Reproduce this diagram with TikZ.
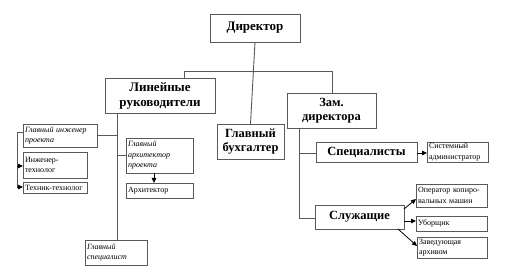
\documentclass[tikz,border=0pt]{standalone}
\usepackage{fontspec}
\setmainfont{Liberation Serif}
\usetikzlibrary{arrows.meta}
\begin{document}
\begin{tikzpicture}[x=1pt,y=-1pt,
  box/.style={draw=black!65, line width=0.9pt, fill=white, anchor=north west, inner sep=1pt, outer sep=0pt},
  big/.style={box, font=\fontsize{13}{15}\selectfont\bfseries, align=center},
  mid/.style={box, font=\fontsize{12.5}{14.5}\selectfont\bfseries, align=center},
  small/.style={box, font=\fontsize{8}{10.5}\selectfont, align=left, inner sep=1.5pt},
  smit/.style={small, font=\fontsize{8}{10.5}\selectfont\itshape},
  ln/.style={draw=black!65, line width=0.9pt},
  arr/.style={draw=black, line width=0.8pt, -{Triangle[length=5pt,width=4.5pt]}}
]
\useasboundingbox[fill=white] (0,0) rectangle (507,280);

% top level
\node[big, minimum width=90pt, minimum height=28pt] (dir) at (210,14) {Директор};
\node[big, minimum width=110pt, minimum height=35pt] (lin) at (105,78) {Линейные\\руководители};
\node[mid, minimum width=89pt, minimum height=35pt] (zam) at (287,93) {Зам.\\директора};
\node[mid, minimum width=67pt, minimum height=35pt] (buh) at (217,124) {Главный\\бухгалтер};

% right branch
\node[mid, minimum width=101pt, minimum height=20pt] (spec) at (316,142) {Специалисты};
\node[mid, minimum width=89pt, minimum height=24pt] (sluzh) at (315,205) {Служащие};
\node[small, minimum width=61pt, minimum height=20pt, text width=57pt] (sys) at (427,142) {Системный\\администратор};
\node[small, minimum width=71pt, minimum height=23pt, text width=67pt] (oper) at (416,184) {Оператор копиро-\\вальных машин};
\node[small, minimum width=71pt, minimum height=15pt, text width=67pt] (ubor) at (416,216) {Уборщик};
\node[small, minimum width=70pt, minimum height=21pt, text width=66pt] (zav) at (417,237) {Заведующая\\архивом};

% left branch
\node[smit, minimum width=74pt, minimum height=23pt, text width=70pt] (gie) at (23,124) {Главный инженер\\проекта};
\node[small, minimum width=64pt, minimum height=26pt, text width=60pt] (inzt) at (23,152) {Инженер-\\технолог};
\node[small, minimum width=64pt, minimum height=11pt, text width=60pt] (tekh) at (23,182) {Техник-технолог};
\node[smit, minimum width=67pt, minimum height=35pt, text width=63pt] (gap) at (126,138) {Главный\\архитектор\\проекта};
\node[small, minimum width=67pt, minimum height=15pt, text width=63pt] (arh) at (126,183) {Архитектор};
\node[smit, minimum width=62pt, minimum height=25pt, text width=58pt] (gsp) at (85,240) {Главный\\специалист};

% connectors top
\coordinate (hl) at (184,71);
\coordinate (hr) at (332,71);
\draw[ln] (dir.south) -- (buh.north);
\draw[ln] (lin.north -| hl) -- (hl) -- (hr) -- (zam.north -| hr);

% left trunk
\coordinate (lt) at (117,113);
\draw[ln] (lt) -- (gsp.north -| lt);
\draw[ln] (gie.east) -- (gie.east -| lt);
\draw[ln] (gap.west) -- (gap.west -| lt);
\coordinate (bt) at (17,132);
\coordinate (bb) at (17,187);
\draw[ln] (gie.west |- bt) -- (bt) -- (bb);
\draw[arr] (bb) -- (tekh.west |- bb);
\draw[arr] (17,166) -- (inzt.west |- 0,166);
\draw[arr] (gap.south -| 154,0) -- (arh.north -| 154,0);

% right trunk
\coordinate (rt) at (299,128);
\coordinate (rb) at (299,218);
\draw[ln] (rt) -- (rb) -- (sluzh.west |- rb);
\draw[ln] (299,153) -- (spec.west |- 0,153);
\draw[arr] (spec.east |- 0,153) -- (sys.west |- 0,153);
\draw[arr] (404,209) -- (oper.west |- 0,199);
\draw[arr] (sluzh.east |- 0,221) -- (ubor.west |- 0,221);
\draw[arr] (398,229) -- (zav.west |- 0,246);
\end{tikzpicture}
\end{document}
